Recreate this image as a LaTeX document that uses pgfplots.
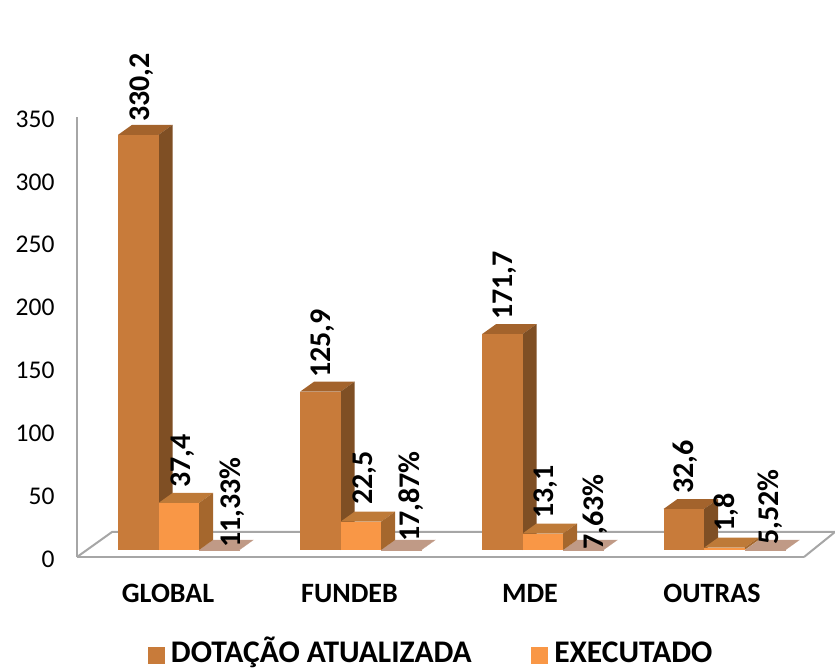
\documentclass[border=0pt]{standalone}
\usepackage{fontspec}
\setmainfont{Carlito}
\usepackage{pgfplots}
\pgfplotsset{compat=1.18}

\definecolor{gridgray}{HTML}{A6A6A6}
\definecolor{dotfront}{HTML}{C87B3A}
\definecolor{dotside}{HTML}{7F4F24}
\definecolor{dottop}{HTML}{A3632C}
\definecolor{exefront}{HTML}{F99746}
\definecolor{exeside}{HTML}{A5672D}
\definecolor{exetop}{HTML}{BE7A38}
\definecolor{pctfloor}{HTML}{C09A86}

% x is in picture pixels, y in chart values; 10 px of depth is 7.96 units
\newcommand{\threedbar}[5]{%
  \pgfmathsetmacro\xb{#1+40.5}%
  \pgfmathsetmacro\xc{#1+14}%
  \pgfmathsetmacro\xd{#1+54.5}%
  \pgfmathsetmacro\yb{#2+7.96}%
  \addplot[fill=#5, draw=none, yshift=7pt, forget plot] coordinates {(#1,#2) (\xb,#2) (\xd,\yb) (\xc,\yb)} -- cycle;
  \addplot[fill=#4, draw=none, yshift=7pt, forget plot] coordinates {(\xb,0) (\xd,7.96) (\xd,\yb) (\xb,#2)} -- cycle;
  \addplot[fill=#3, draw=none, yshift=7pt, forget plot] coordinates {(#1,0) (\xb,0) (\xb,#2) (#1,#2)} -- cycle;
}
\newcommand{\datalabel}[3]{\node[rotate=90, anchor=base west, inner sep=0pt, font=\bfseries\fontsize{30}{30}\selectfont] at (#1pt,{668pt-#2pt}) {#3};}

\begin{document}
\begin{tikzpicture}[x=1pt,y=1pt]
\path[use as bounding box] (0,0) rectangle (835,670);
\begin{axis}[
    at={(77pt,113pt)},
    anchor=south west,
    scale only axis,
    width=727pt,
    height=440pt,
    xmin=77, xmax=804,
    ymin=0, ymax=350,
    clip=false,
    axis x line*=bottom,
    axis y line*=left,
    axis line style={gridgray, line width=2pt, -},
    xtick={168,349.5,530,712},
    xticklabels={GLOBAL,FUNDEB,MDE,OUTRAS},
    ytick={0,50,100,150,200,250,300,350},
    major tick length=0pt,
    /pgf/number format/assume math mode=true,
    yticklabel style={font=\fontsize{25.5}{25.5}\selectfont, xshift=-19pt, yshift=-2pt},
    xticklabel style={font=\bfseries\fontsize{28}{28}\selectfont, yshift=-24pt},
    legend style={at={(axis cs:431,-74)}, anchor=center, draw=none, fill=none,
      inner sep=0pt, nodes={inner ysep=0pt},
      legend columns=2, font=\bfseries\fontsize{31.5}{31.5}\selectfont,
      /tikz/every odd column/.append style={column sep=5pt},
      /tikz/every even column/.append style={column sep=57pt}},
    legend image code/.code={\fill[#1] (0pt,-13pt) rectangle (16pt,3pt);},
]
% floor
\addplot[gridgray, line width=2pt, forget plot] coordinates {(77,0) (112,19.9) (835,19.9)};
\addplot[gridgray, line width=2pt, forget plot] coordinates {(804,0) (835,19.9)};

% percent series lies almost flat on the floor
\threedbar{199}{0.1133}{pctfloor}{pctfloor}{pctfloor}
\threedbar{381}{0.1787}{pctfloor}{pctfloor}{pctfloor}
\threedbar{563}{0.0763}{pctfloor}{pctfloor}{pctfloor}
\threedbar{745}{0.0552}{pctfloor}{pctfloor}{pctfloor}

\threedbar{118}{330.2}{dotfront}{dotside}{dottop}
\threedbar{300}{125.9}{dotfront}{dotside}{dottop}
\threedbar{482}{171.7}{dotfront}{dotside}{dottop}
\threedbar{663.5}{32.6}{dotfront}{dotside}{dottop}

\threedbar{158.5}{37.4}{exefront}{exeside}{exetop}
\threedbar{340.5}{22.5}{exefront}{exeside}{exetop}
\threedbar{522.5}{13.1}{exefront}{exeside}{exetop}
\threedbar{704}{1.8}{exefront}{exeside}{exetop}

\addlegendimage{dotfront}
\addlegendentry{DOTAÇÃO ATUALIZADA}
\addlegendimage{exefront}
\addlegendentry{\vphantom{ÇÃ}EXECUTADO}
\end{axis}

\datalabel{149}{120}{330,2}
\datalabel{190}{486}{37,4}
\datalabel{240}{546}{11,33\%}
\datalabel{330}{376}{125,9}
\datalabel{372}{503}{22,5}
\datalabel{419}{540}{17,87\%}
\datalabel{512}{318}{171,7}
\datalabel{553}{517}{13,1}
\datalabel{603}{548}{7,63\%}
\datalabel{693}{492}{32,6}
\datalabel{734}{530}{1,8}
\datalabel{778}{543}{5,52\%}
\end{tikzpicture}
\end{document}
